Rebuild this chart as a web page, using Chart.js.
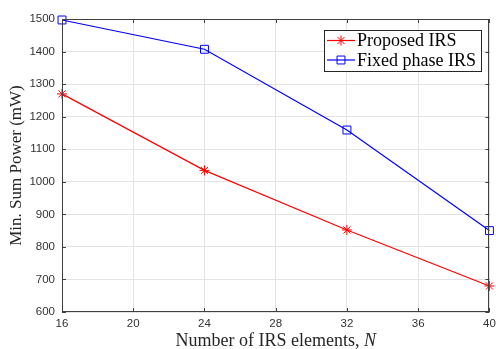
<!DOCTYPE html>
<html>
<head>
<meta charset="utf-8">
<script src="https://cdn.jsdelivr.net/npm/chart.js@4"></script>
<style>
  html, body { margin: 0; padding: 0; background: #fff; }
  #wrap { width: 496px; height: 349px; }
</style>
</head>
<body>
<div id="wrap"><canvas id="chart" width="496" height="349"></canvas></div>
<script>
// データ
const irsElements = [16, 24, 32, 40];
const proposedPower = [1270, 1035, 852, 680];
const fixedPhasePower = [1497, 1407, 1159, 850];
const seriesLabels = ['Proposed IRS', 'Fixed phase IRS'];
const xTicks = [16, 20, 24, 28, 32, 36, 40];
const yTicks = [600, 700, 800, 900, 1000, 1100, 1200, 1300, 1400, 1500];

const frameColor = '#404040';
const serif = '"Liberation Serif", "Times New Roman", serif';
const sans = '"Liberation Sans", Arial, sans-serif';

// 枠線と内向きの目盛り (MATLAB風)
const framePlugin = {
    id: 'frame',
    afterDraw(chart) {
        const { ctx, chartArea: a, scales } = chart;
        ctx.save();
        ctx.strokeStyle = frameColor;
        ctx.lineWidth = 1;
        ctx.strokeRect(Math.round(a.left) + 0.5, Math.round(a.top) + 0.5,
            Math.round(a.right - a.left) - 1, Math.round(a.bottom - a.top) - 1);
        ctx.beginPath();
        const len = 4;
        xTicks.forEach(v => {
            const x = Math.round(scales.x.getPixelForValue(v)) + 0.5;
            ctx.moveTo(x, a.bottom); ctx.lineTo(x, a.bottom - len);
            ctx.moveTo(x, a.top); ctx.lineTo(x, a.top + len);
        });
        yTicks.forEach(v => {
            const y = Math.round(scales.y.getPixelForValue(v)) + 0.5;
            ctx.moveTo(a.left, y); ctx.lineTo(a.left + len, y);
            ctx.moveTo(a.right, y); ctx.lineTo(a.right - len, y);
        });
        ctx.stroke();
        ctx.restore();
    }
};

// x軸タイトル (N はイタリック)
const xTitlePlugin = {
    id: 'xTitle',
    afterDraw(chart) {
        const { ctx, chartArea: a } = chart;
        ctx.save();
        ctx.fillStyle = '#262626';
        ctx.textBaseline = 'alphabetic';
        const main = 'Number of IRS elements, ';
        ctx.font = '18px ' + serif;
        const w1 = ctx.measureText(main).width;
        ctx.font = 'italic 18px ' + serif;
        const w2 = ctx.measureText('N').width;
        const x0 = (a.left + a.right) / 2 - (w1 + w2) / 2;
        const y = 346;
        ctx.font = '18px ' + serif;
        ctx.fillText(main, x0, y);
        ctx.font = 'italic 18px ' + serif;
        ctx.fillText('N', x0 + w1, y);
        ctx.restore();
    }
};

// 凡例 (枠付き)
const legendPlugin = {
    id: 'boxLegend',
    afterDraw(chart) {
        const ctx = chart.ctx;
        const box = { x: 324, y: 30, w: 157, h: 41 };
        ctx.save();
        ctx.fillStyle = '#fff';
        ctx.fillRect(box.x, box.y, box.w, box.h);
        ctx.strokeStyle = '#262626';
        ctx.lineWidth = 1;
        ctx.strokeRect(box.x + 0.5, box.y + 0.5, box.w, box.h);
        chart.data.datasets.forEach((ds, i) => {
            const cy = box.y + 10.5 + i * 19.5;
            ctx.strokeStyle = ds.borderColor;
            ctx.lineWidth = ds.borderWidth;
            ctx.beginPath();
            ctx.moveTo(box.x + 3, cy);
            ctx.lineTo(box.x + 31, cy);
            ctx.stroke();
            ctx.strokeStyle = ds.pointBorderColor;
            ctx.fillStyle = 'rgba(0,0,0,0)';
            ctx.lineWidth = 1;
            Chart.helpers.drawPoint(ctx, {
                pointStyle: ds.pointStyle,
                radius: ds.pointRadius,
                borderWidth: 1
            }, box.x + 17, cy);
            ctx.fillStyle = '#000';
            ctx.font = '18px ' + serif;
            ctx.textBaseline = 'middle';
            ctx.fillText(ds.label, box.x + 33, cy + 1);
        });
        ctx.restore();
    }
};

new Chart(document.getElementById('chart'), {
    type: 'line',
    data: {
        datasets: [
            {
                label: seriesLabels[0],
                data: irsElements.map((x, i) => ({ x, y: proposedPower[i] })),
                borderColor: '#ff0000',
                backgroundColor: 'rgba(0,0,0,0)',
                pointBorderColor: '#ff0000',
                borderWidth: 1.2,
                pointStyle: 'star',
                pointRadius: 5,
                pointBorderWidth: 1,
                tension: 0
            },
            {
                label: seriesLabels[1],
                data: irsElements.map((x, i) => ({ x, y: fixedPhasePower[i] })),
                borderColor: '#0000ff',
                backgroundColor: 'rgba(0,0,0,0)',
                pointBorderColor: '#0000ff',
                borderWidth: 1.2,
                pointStyle: 'rect',
                pointRadius: 5.6,
                pointBorderWidth: 1,
                tension: 0
            }
        ]
    },
    options: {
        responsive: false,
        animation: false,
        clip: false,
        layout: { padding: { top: 19, right: 4, left: 0, bottom: 0 } },
        plugins: {
            legend: { display: false },
            tooltip: { enabled: false }
        },
        scales: {
            x: {
                type: 'linear',
                min: 16,
                max: 40,
                afterBuildTicks: s => { s.ticks = xTicks.map(v => ({ value: v })); },
                afterFit: s => { s.height = 37; s.paddingLeft = 0; s.paddingRight = 0; },
                ticks: {
                    color: '#333333',
                    font: { family: sans, size: 11.5 },
                    padding: 5,
                    maxRotation: 0,
                    callback: v => String(v)
                },
                grid: { color: '#e3e3e3', tickLength: 0, drawTicks: false },
                border: { display: false }
            },
            y: {
                type: 'linear',
                min: 600,
                max: 1500,
                afterBuildTicks: s => { s.ticks = yTicks.map(v => ({ value: v })); },
                afterFit: s => { s.width = 62; s.paddingTop = 0; s.paddingBottom = 0; },
                ticks: {
                    color: '#333333',
                    font: { family: sans, size: 11.5 },
                    padding: 7,
                    callback: v => String(v)
                },
                grid: { color: '#e3e3e3', tickLength: 0, drawTicks: false },
                border: { display: false },
                title: {
                    display: true,
                    text: 'Min. Sum Power (mW)',
                    color: '#262626',
                    font: { family: serif, size: 17 },
                    padding: { top: 6, bottom: 0 }
                }
            }
        }
    },
    plugins: [framePlugin, xTitlePlugin, legendPlugin]
});
</script>
</body>
</html>
